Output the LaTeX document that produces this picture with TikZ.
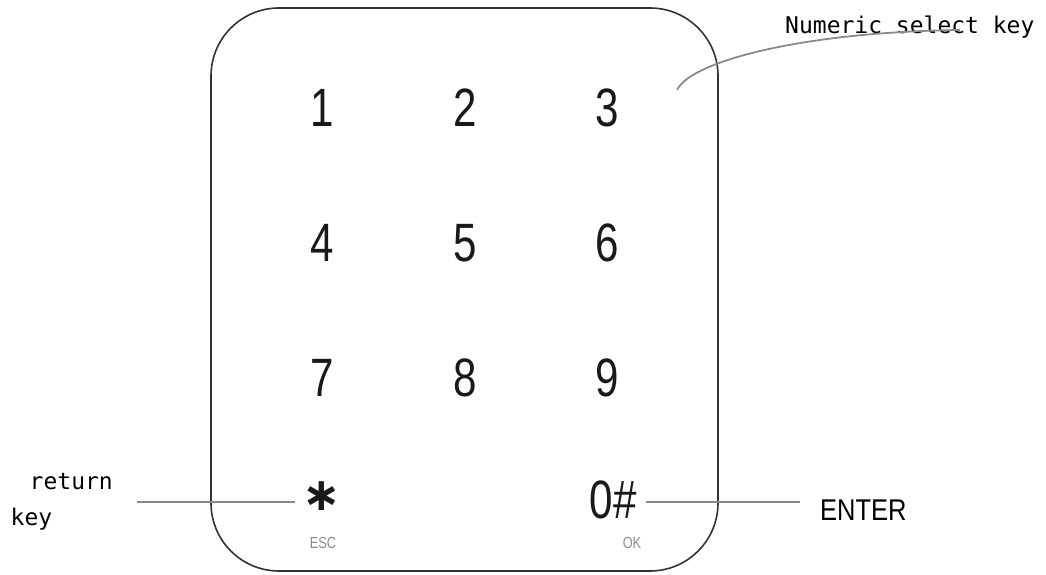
\documentclass[tikz,border=0pt]{standalone}
\usepackage{fontspec}
\usepackage{amsmath}
\newfontfamily\keyfont{Liberation Sans}
\newfontfamily\notefont{DejaVu Sans Mono}
\newfontfamily\starfont{DejaVu Sans}
\newcommand{\narrowtext}[2][0.78]{\scalebox{#1}[1]{#2}}
\definecolor{framegray}{HTML}{333333}
\definecolor{leadgray}{HTML}{8A8A8A}
\tikzset{
  digit/.style={inner sep=0pt, text=black!90,
    font=\keyfont\fontsize{54}{54}\selectfont},
  subkey/.style={inner sep=0pt, text=leadgray,
    font=\keyfont\fontsize{16}{16}\selectfont},
  note/.style={inner sep=0pt, font=\notefont\fontsize{23}{36}\selectfont},
  leadline/.style={draw=leadgray, line width=2.6pt},
}

\begin{document}
\begin{tikzpicture}[x=1pt,y=1pt]
            \useasboundingbox (0,0) rectangle (1046,574);
            % keypad frame
            \draw[framegray, line width=1.6pt, rounded corners=68pt] (211,3) rectangle (718,566);
            % digit keys
            \foreach \n/\x/\y in {1/322/466, 2/465/466, 3/607/466,
                                  4/322/331, 5/465/331, 6/607/331,
                                  7/322/196, 8/465/196, 9/607/196}
              \node[digit] (key\n) at (\x,\y) {\narrowtext{\n}};
            \node[inner sep=0pt, text=black!90, font=\starfont\bfseries\fontsize{46}{46}\selectfont] (star) at (322,78) {∗};
            \node[digit] (zero) at (613,74) {\narrowtext{0\#}};
            \node[subkey] (esc) at (323,31) {\narrowtext[0.8]{ESC}};
            \node[subkey] (ok) at (632,31) {\narrowtext[0.8]{OK}};
            % labels
            \node[note, anchor=west] (numlabel) at (785,547) {Numeric select key};
            \node[note, anchor=east, align=left] (retlabel) at (113,72) {\hspace{19pt}return\\key};
            \node[anchor=west, inner sep=0pt, font=\keyfont\fontsize{30}{30}\selectfont] (enter) at (820,64) {\narrowtext[0.85]{ENTER}};
            % leaders
            \coordinate (selpt) at (677,484);
            \draw[draw=leadgray, line width=1.8pt] (selpt) .. controls (690,512) and (800,542) .. ([shift={(50,-3)}]numlabel.center);
            \draw[leadline, shorten <=24pt] (retlabel.east) -- ([xshift=-8pt]retlabel.east -| star.west);
            \draw[leadline, shorten <=9pt, shorten >=20pt] (zero.east |- retlabel.east) -- (retlabel.east -| enter.west);
        \end{tikzpicture}
\end{document}
